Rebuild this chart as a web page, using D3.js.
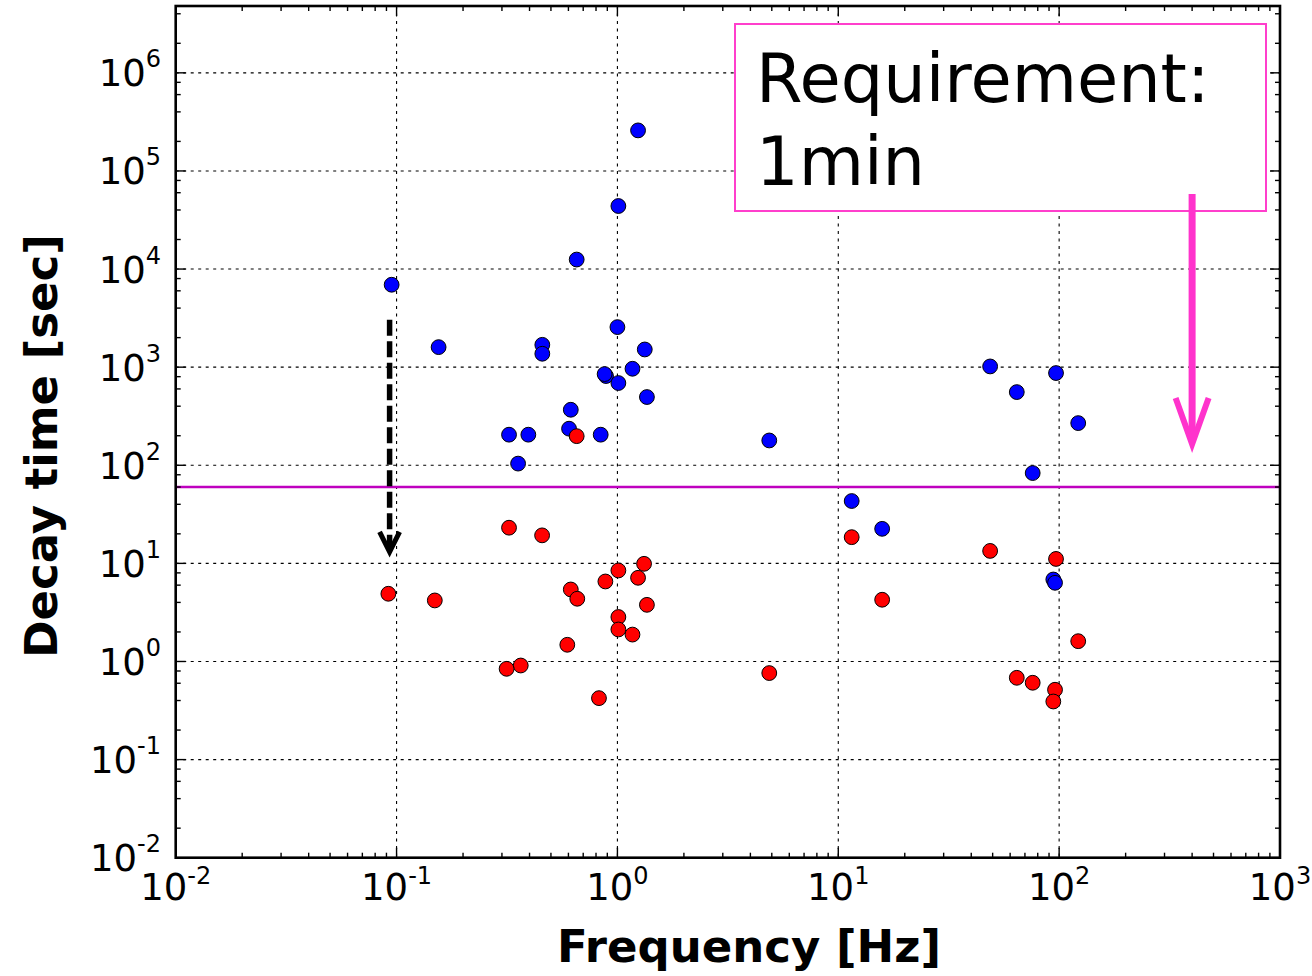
<!DOCTYPE html>
<html>
<head>
<meta charset="utf-8">
<script src="https://cdn.jsdelivr.net/npm/d3@7"></script>
<style>
  html, body { margin: 0; padding: 0; background: #ffffff; }
  svg { display: block; }
  text { font-family: "DejaVu Sans", Verdana, sans-serif; }
</style>
</head>
<body>
<svg id="chart" width="1312" height="976"></svg>
<script>
// Modes with long decay times (blue) and after damping (red)
const freqBlue  = [1.24, 1.01, 0.654, 0.095, 1.0, 0.155, 0.457, 0.457, 1.33, 1.17, 0.888, 0.875, 1.01, 1.36, 0.615, 0.604, 0.323, 0.395, 0.84, 0.355, 4.87, 48.7, 96.8, 64.3, 122, 75.9, 11.5, 15.8, 94.1, 95.8];
const decayBlue = [2.59e5, 4.39e4, 1.25e4, 6920, 2560, 1600, 1690, 1370, 1515, 963, 812, 850, 689, 496, 368, 236, 205, 205, 205, 104, 179, 1017, 871, 557, 269, 83.3, 43.2, 22.5, 6.85, 6.34];

const freqRed  = [0.654, 0.323, 0.456, 1.32, 1.01, 1.24, 0.882, 0.0918, 0.149, 0.615, 0.658, 1.36, 1.01, 1.01, 1.17, 0.593, 0.365, 0.315, 0.825, 4.87, 11.5, 48.7, 96.8, 15.8, 122, 64.3, 75.9, 95.8, 94.1];
const decayRed = [198, 23.1, 19.3, 9.9, 8.47, 7.13, 6.54, 4.9, 4.19, 5.42, 4.36, 3.78, 2.84, 2.12, 1.88, 1.48, 0.91, 0.842, 0.423, 0.762, 18.5, 13.4, 11.1, 4.26, 1.61, 0.682, 0.607, 0.515, 0.391];

// Axis ranges and tick exponents
const xDomain = [1e-2, 1e3];
const yDomain = [1e-2, 4.8e6];
const xTickExps = [-2, -1, 0, 1, 2, 3];
const yTickExps = [-2, -1, 0, 1, 2, 3, 4, 5, 6];

// Requirement level (1 minute) and annotation text
const requirementSec = 60;
const noteLines = ["Requirement:", "1min"];
// Illustrative arrows: damping arrow at ~0.093 Hz, requirement arrow at ~400 Hz
const dampArrow = { f: 0.093, from: 3040, to: 13.1 };
const reqArrow  = { f: 400 };

const svg = d3.select("#chart");
const W = 1312, H = 976;
const plot = { left: 175.7, right: 1280, top: 6, bottom: 857.7 };

svg.append("rect").attr("width", W).attr("height", H).attr("fill", "#fff");

const x = d3.scaleLog().domain(xDomain).range([plot.left, plot.right]);
const y = d3.scaleLog().domain(yDomain).range([plot.bottom, plot.top]);

// Grid (dotted, major decades)
const grid = svg.append("g").attr("stroke", "#000").attr("stroke-width", 1.1)
  .attr("stroke-dasharray", "3,4.5").attr("fill", "none");
xTickExps.map(e => Math.pow(10, e)).filter(v => v > xDomain[0] && v < xDomain[1]).forEach(v => {
  grid.append("line").attr("x1", x(v)).attr("x2", x(v)).attr("y1", plot.top).attr("y2", plot.bottom);
});
yTickExps.map(e => Math.pow(10, e)).filter(v => v > yDomain[0] && v < yDomain[1]).forEach(v => {
  grid.append("line").attr("y1", y(v)).attr("y2", y(v)).attr("x1", plot.left).attr("x2", plot.right);
});

// Requirement line
svg.append("line")
  .attr("x1", plot.left).attr("x2", plot.right)
  .attr("y1", y(requirementSec)).attr("y2", y(requirementSec))
  .attr("stroke", "#bf00bf").attr("stroke-width", 2.6);

// Scatter points
function drawPoints(fs, ts, color) {
  svg.append("g").selectAll("circle")
    .data(fs.map((f, i) => ({ f, t: ts[i] })))
    .join("circle")
    .attr("cx", d => x(d.f)).attr("cy", d => y(d.t)).attr("r", 7.4)
    .attr("fill", color).attr("stroke", "#000").attr("stroke-width", 1);
}
drawPoints(freqBlue, decayBlue, "#0000ff");
drawPoints(freqRed, decayRed, "#ff0000");

// Ticks on all four sides, pointing inward
const ticks = svg.append("g").attr("stroke", "#000").attr("stroke-width", 1.4);
const majorLen = 10, minorLen = 5;
function logTicks(domain, subs) {
  const out = [];
  const e0 = Math.floor(Math.log10(domain[0])), e1 = Math.ceil(Math.log10(domain[1]));
  for (let e = e0; e <= e1; e++) {
    const base = Math.pow(10, e);
    if (base >= domain[0] && base <= domain[1]) out.push({ v: base, major: true });
    subs.forEach(s => {
      const v = s * base;
      if (v > domain[0] && v < domain[1]) out.push({ v, major: false });
    });
  }
  return out;
}
logTicks(xDomain, [2, 3, 4, 5, 6, 7, 8, 9]).forEach(t => {
  const len = t.major ? majorLen : minorLen, px = x(t.v);
  ticks.append("line").attr("x1", px).attr("x2", px).attr("y1", plot.bottom).attr("y2", plot.bottom - len);
  ticks.append("line").attr("x1", px).attr("x2", px).attr("y1", plot.top).attr("y2", plot.top + len);
});
logTicks(yDomain, [2, 4, 6, 8]).forEach(t => {
  const len = t.major ? majorLen : minorLen, py = y(t.v);
  ticks.append("line").attr("y1", py).attr("y2", py).attr("x1", plot.left).attr("x2", plot.left + len);
  ticks.append("line").attr("y1", py).attr("y2", py).attr("x1", plot.right).attr("x2", plot.right - len);
});

// Frame
svg.append("rect")
  .attr("x", plot.left).attr("y", plot.top)
  .attr("width", plot.right - plot.left).attr("height", plot.bottom - plot.top)
  .attr("fill", "none").attr("stroke", "#000").attr("stroke-width", 2.6);

// Tick labels: 10 with superscript exponent
function powerLabel(g, e, px, py, anchor, raise) {
  const t = g.append("text").attr("x", px).attr("y", py).attr("text-anchor", anchor)
    .attr("font-size", 37).attr("fill", "#000");
  t.append("tspan").text("10");
  t.append("tspan").attr("font-size", 24).attr("dy", -raise).text(String(e));
}
const labels = svg.append("g");
xTickExps.forEach(e => powerLabel(labels, e, x(Math.pow(10, e)), 900, "middle", 16));
yTickExps.forEach(e => powerLabel(labels, e, 161, y(Math.pow(10, e)) + 13.5, "end", 19));

// Axis titles
svg.append("text")
  .attr("x", 749).attr("y", 962).attr("text-anchor", "middle")
  .attr("font-size", 45).attr("font-weight", "bold").text("Frequency [Hz]");
svg.append("text")
  .attr("transform", "translate(57,446) rotate(-90)").attr("text-anchor", "middle")
  .attr("font-size", 45).attr("font-weight", "bold").text("Decay time [sec]");

// Damping arrow (black, dashed)
const ax = x(dampArrow.f), tipY = y(dampArrow.to);
svg.append("line")
  .attr("x1", ax).attr("x2", ax).attr("y1", y(dampArrow.from)).attr("y2", tipY - 4)
  .attr("stroke", "#000").attr("stroke-width", 5.5).attr("stroke-dasharray", "16,5.5");
svg.append("path")
  .attr("d", `M${ax - 10},${tipY - 20} L${ax},${tipY} L${ax + 10},${tipY - 20}`)
  .attr("fill", "none").attr("stroke", "#000").attr("stroke-width", 5).attr("stroke-linejoin", "miter");

// Requirement note box
const box = { x: 735, y: 24, w: 531, h: 187 };
svg.append("rect").attr("x", box.x).attr("y", box.y).attr("width", box.w).attr("height", box.h)
  .attr("fill", "#fff").attr("stroke", "#ff3fcc").attr("stroke-width", 2);
noteLines.forEach((s, i) => {
  svg.append("text").attr("x", 756).attr("y", 102 + i * 83)
    .attr("font-size", 67).attr("fill", "#000").text(s);
});

// Requirement arrow (pink)
const rx = x(reqArrow.f);
svg.append("line").attr("x1", rx).attr("x2", rx).attr("y1", 194).attr("y2", 440)
  .attr("stroke", "#ff33cc").attr("stroke-width", 7);
svg.append("path")
  .attr("d", `M${rx - 16.5},398 L${rx},444 L${rx + 16.5},398`)
  .attr("fill", "none").attr("stroke", "#ff33cc").attr("stroke-width", 6);
</script>
</body>
</html>
